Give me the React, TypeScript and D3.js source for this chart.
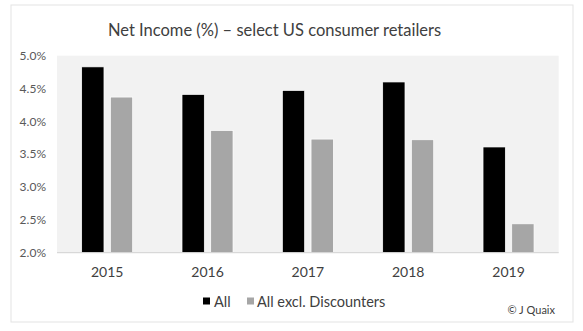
import React from "react";
import * as d3 from "d3";

const years = ["2015", "2016", "2017", "2018", "2019"];
const allValues = [4.83, 4.41, 4.47, 4.6, 3.61];
const exDiscValues = [4.37, 3.86, 3.73, 3.72, 2.44];
const yTicks = [2.0, 2.5, 3.0, 3.5, 4.0, 4.5, 5.0];
const seriesNames = ["All", "All excl. Discounters"];
const seriesColors = ["#000000", "#a6a6a6"];

const W = 583;
const H = 331;
const plot = { left: 57, right: 558.7, top: 55.7, bottom: 252.7 };
const font = "Lato, 'Open Sans', sans-serif";

export default function App() {
  const x = d3.scaleBand<string>().domain(years).range([plot.left, plot.right]).paddingInner(0).paddingOuter(0);
  const y = d3.scaleLinear().domain([2, 5]).range([plot.bottom, plot.top]);
  const barW = 22.3;
  const gap = 6.4;
  const series = [allValues, exDiscValues];

  return (
    <svg width={W} height={H} style={{ position: "absolute", left: 0, top: 0, background: "#fff" }}>
      <rect x={11} y={5} width={562} height={317} fill="#fff" stroke="#e3e3e3" strokeWidth={1} />
      <text x={274.5} y={35.5} textAnchor="middle" fontFamily={font} fontSize={16.5} fill="#404040">
        Net Income (%) – select US consumer retailers
      </text>
      <rect x={plot.left} y={plot.top} width={plot.right - plot.left} height={plot.bottom - plot.top} fill="#f2f2f2" />
      {yTicks.map((t) => (
        <text key={t} x={46} y={y(t)} dy="0.35em" textAnchor="end" fontFamily={font} fontSize={12} fill="#595959">
          {t.toFixed(1)}%
        </text>
      ))}
      {series.map((vals, si) =>
        vals.map((v, i) => {
          const c = x(years[i])! + x.bandwidth() / 2;
          const groupW = barW * 2 + gap;
          const bx = c - groupW / 2 + si * (barW + gap);
          return (
            <rect
              key={`${si}-${i}`}
              x={bx}
              y={y(v)}
              width={barW}
              height={plot.bottom - y(v)}
              fill={seriesColors[si]}
              stroke="#fff"
              strokeWidth={0.7}
            />
          );
        })
      )}
      <line x1={plot.left} x2={plot.right} y1={plot.bottom} y2={plot.bottom} stroke="#d0d0d0" strokeWidth={1} />
      {years.map((yr) => (
        <text key={yr} x={x(yr)! + x.bandwidth() / 2} y={272} dy="0.35em" textAnchor="middle" fontFamily={font} fontSize={14} fill="#404040">
          {yr}
        </text>
      ))}
      <rect x={203} y={297.5} width={7} height={7} fill={seriesColors[0]} />
      <text x={214} y={301.5} dy="0.35em" fontFamily={font} fontSize={14.5} fill="#404040">{seriesNames[0]}</text>
      <rect x={247} y={297.5} width={7} height={7} fill={seriesColors[1]} />
      <text x={257} y={301.5} dy="0.35em" fontFamily={font} fontSize={14.5} fill="#404040">{seriesNames[1]}</text>
      <text x={555} y={310} dy="0.35em" textAnchor="end" fontFamily={font} fontSize={11} fill="#404040">© J Quaix</text>
    </svg>
  );
}
